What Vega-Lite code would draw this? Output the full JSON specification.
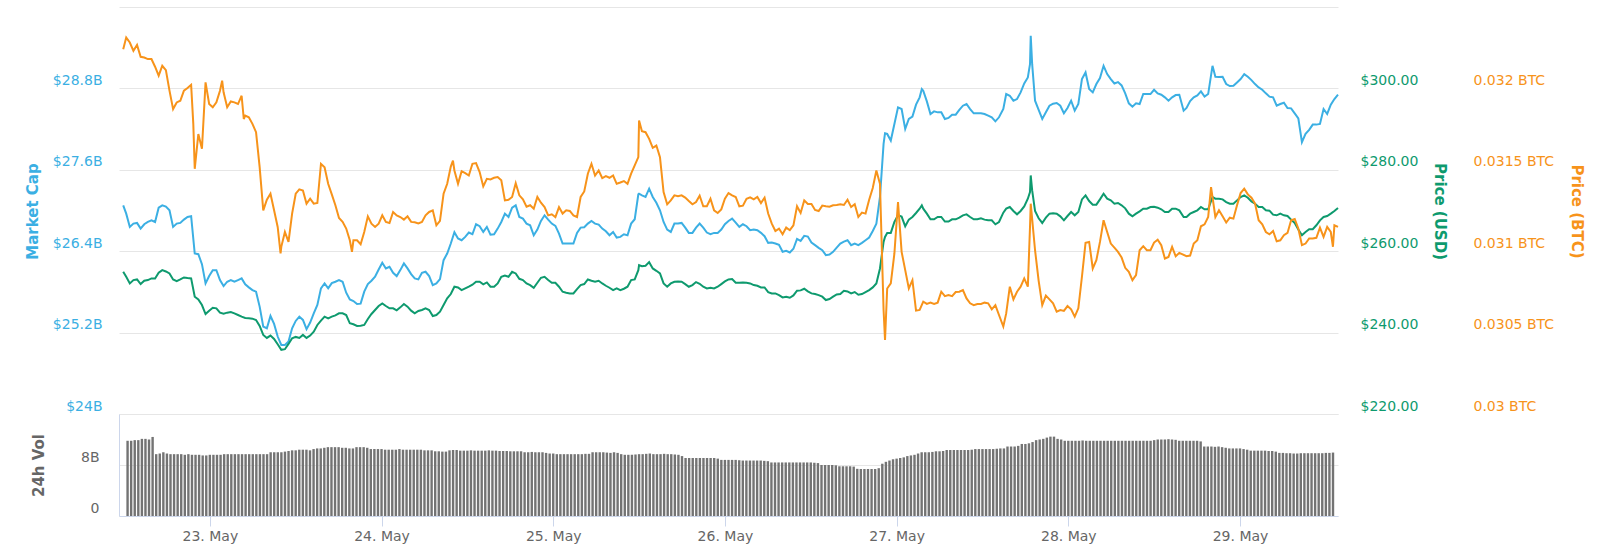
{
"$schema":"https://vega.github.io/schema/vega-lite/v6.json",
"padding":{"left":25,"top":7,"right":10,"bottom":4},
"background":"white",
"config":{"view":{"stroke":null},"font":"DejaVu Sans","axis":{"labelFontSize":14,"titleFontSize":15,"titleFontWeight":"bold","labelFlush":false}},
"datasets":{
"prices":[
{"t":"2019-05-22T12:35","m":27.076,"u":254.94,"b":0.032241},
{"t":"2019-05-22T13:00","m":26.954,"u":253.71,"b":0.032312},
{"t":"2019-05-22T13:30","m":26.758,"u":252.08,"b":0.032282},
{"t":"2019-05-22T14:00","m":26.807,"u":252.9,"b":0.032231},
{"t":"2019-05-22T14:30","m":26.817,"u":253.06,"b":0.032267},
{"t":"2019-05-22T15:00","m":26.733,"u":251.92,"b":0.032194},
{"t":"2019-05-22T15:30","m":26.797,"u":252.73,"b":0.03219},
{"t":"2019-05-22T16:00","m":26.831,"u":252.9,"b":0.03218},
{"t":"2019-05-22T16:30","m":26.856,"u":253.31,"b":0.03218},
{"t":"2019-05-22T17:00","m":26.831,"u":253.31,"b":0.032133},
{"t":"2019-05-22T17:30","m":27.042,"u":254.69,"b":0.032078},
{"t":"2019-05-22T18:00","m":27.076,"u":255.35,"b":0.032139},
{"t":"2019-05-22T18:30","m":27.057,"u":255.02,"b":0.032112},
{"t":"2019-05-22T19:00","m":27.003,"u":254.53,"b":0.031986},
{"t":"2019-05-22T19:30","m":26.758,"u":253.06,"b":0.031873},
{"t":"2019-05-22T20:00","m":26.807,"u":252.65,"b":0.031914},
{"t":"2019-05-22T20:30","m":26.817,"u":253.06,"b":0.031924},
{"t":"2019-05-22T21:00","m":26.866,"u":253.55,"b":0.031986},
{"t":"2019-05-22T21:30","m":26.905,"u":253.39,"b":0.032002},
{"t":"2019-05-22T22:00","m":26.915,"u":253.31,"b":0.032022},
{"t":"2019-05-22T22:18","b":0.031782},
{"t":"2019-05-22T22:30","m":26.366,"u":248.82,"b":0.031506},
{"t":"2019-05-22T23:00","m":26.356,"u":248.16,"b":0.03172},
{"t":"2019-05-22T23:30","m":26.209,"u":246.78,"b":0.031629},
{"t":"2019-05-23T00:00","m":25.925,"u":244.57,"b":0.032037},
{"t":"2019-05-23T00:30","m":26.033,"u":245.39,"b":0.031904},
{"t":"2019-05-23T01:00","m":26.121,"u":246.12,"b":0.031884},
{"t":"2019-05-23T01:30","m":26.121,"u":245.96,"b":0.031914},
{"t":"2019-05-23T02:00","m":25.974,"u":244.9,"b":0.031986},
{"t":"2019-05-23T02:18","b":0.032047},
{"t":"2019-05-23T02:30","m":25.886,"u":244.65,"b":0.031976},
{"t":"2019-05-23T03:00","m":25.95,"u":244.9,"b":0.031884},
{"t":"2019-05-23T03:30","m":25.974,"u":245.06,"b":0.03192},
{"t":"2019-05-23T04:00","m":25.95,"u":244.73,"b":0.031914},
{"t":"2019-05-23T04:30","m":25.974,"u":244.33,"b":0.031904},
{"t":"2019-05-23T05:00","m":25.999,"u":243.92,"b":0.031955},
{"t":"2019-05-23T05:18","b":0.031812},
{"t":"2019-05-23T05:30","m":25.911,"u":243.59,"b":0.031833},
{"t":"2019-05-23T06:00","m":25.867,"u":243.51,"b":0.031822},
{"t":"2019-05-23T06:30","m":25.827,"u":243.43,"b":0.031782},
{"t":"2019-05-23T07:00","m":25.803,"u":243.1,"b":0.031731},
{"t":"2019-05-23T07:30","m":25.583,"u":241.63,"b":0.031516},
{"t":"2019-05-23T08:00","m":25.289,"u":239.43,"b":0.031251},
{"t":"2019-05-23T08:30","m":25.264,"u":238.69,"b":0.031316},
{"t":"2019-05-23T09:00","m":25.445,"u":239.27,"b":0.031353},
{"t":"2019-05-23T09:30","m":25.328,"u":238.45,"b":0.031251},
{"t":"2019-05-23T10:00","m":25.142,"u":237.14,"b":0.031149},
{"t":"2019-05-23T10:24","b":0.030986},
{"t":"2019-05-23T10:30","m":25.019,"u":235.76,"b":0.031027},
{"t":"2019-05-23T11:00","m":25.019,"u":235.92,"b":0.031118},
{"t":"2019-05-23T11:30","m":25.068,"u":237.22,"b":0.031057},
{"t":"2019-05-23T12:00","m":25.264,"u":238.61,"b":0.031231},
{"t":"2019-05-23T12:30","m":25.372,"u":238.94,"b":0.031353},
{"t":"2019-05-23T13:00","m":25.436,"u":238.69,"b":0.03138},
{"t":"2019-05-23T13:30","m":25.387,"u":239.43,"b":0.031373},
{"t":"2019-05-23T14:00","m":25.25,"u":238.69,"b":0.031292},
{"t":"2019-05-23T14:30","m":25.348,"u":239.27,"b":0.031322},
{"t":"2019-05-23T15:00","m":25.485,"u":240.24,"b":0.031292},
{"t":"2019-05-23T15:30","m":25.607,"u":241.88,"b":0.031296},
{"t":"2019-05-23T16:00","m":25.852,"u":242.94,"b":0.031537},
{"t":"2019-05-23T16:30","m":25.925,"u":243.92,"b":0.031516},
{"t":"2019-05-23T17:00","m":25.852,"u":243.51,"b":0.031414},
{"t":"2019-05-23T17:30","m":25.93,"u":243.92,"b":0.031349},
{"t":"2019-05-23T18:00","m":25.95,"u":244.24,"b":0.031282},
{"t":"2019-05-23T18:30","m":25.974,"u":244.73,"b":0.031204},
{"t":"2019-05-23T19:00","m":25.95,"u":244.73,"b":0.03118},
{"t":"2019-05-23T19:30","m":25.788,"u":244.33,"b":0.031139},
{"t":"2019-05-23T20:00","m":25.69,"u":242.29,"b":0.031067},
{"t":"2019-05-23T20:18","b":0.030996},
{"t":"2019-05-23T20:30","m":25.666,"u":242.04,"b":0.031067},
{"t":"2019-05-23T21:00","m":25.622,"u":241.63,"b":0.031067},
{"t":"2019-05-23T21:30","m":25.627,"u":241.71,"b":0.031043},
{"t":"2019-05-23T22:00","m":25.803,"u":241.88,"b":0.031118},
{"t":"2019-05-23T22:30","m":25.916,"u":243.35,"b":0.031214},
{"t":"2019-05-23T23:00","m":25.965,"u":244.57,"b":0.031169},
{"t":"2019-05-23T23:30","m":26.023,"u":245.55,"b":0.031149},
{"t":"2019-05-24T00:00","m":26.131,"u":246.53,"b":0.031169},
{"t":"2019-05-24T00:30","m":26.229,"u":247.18,"b":0.03122},
{"t":"2019-05-24T01:00","m":26.146,"u":246.53,"b":0.03118},
{"t":"2019-05-24T01:30","m":26.17,"u":245.96,"b":0.031173},
{"t":"2019-05-24T02:00","m":26.082,"u":245.96,"b":0.031241},
{"t":"2019-05-24T02:30","m":26.033,"u":245.47,"b":0.03122},
{"t":"2019-05-24T03:00","m":26.121,"u":246.2,"b":0.03121},
{"t":"2019-05-24T03:30","m":26.219,"u":247.02,"b":0.031194},
{"t":"2019-05-24T04:00","m":26.146,"u":246.37,"b":0.031214},
{"t":"2019-05-24T04:30","m":26.062,"u":245.39,"b":0.03118},
{"t":"2019-05-24T05:00","m":25.999,"u":244.73,"b":0.031178},
{"t":"2019-05-24T05:30","m":25.984,"u":245.31,"b":0.031171},
{"t":"2019-05-24T06:00","m":26.082,"u":245.55,"b":0.03118},
{"t":"2019-05-24T06:30","m":26.097,"u":245.96,"b":0.03122},
{"t":"2019-05-24T07:00","m":26.033,"u":245.55,"b":0.031241},
{"t":"2019-05-24T07:30","m":25.901,"u":244.08,"b":0.031251},
{"t":"2019-05-24T08:00","m":25.925,"u":244.33,"b":0.031159},
{"t":"2019-05-24T08:30","m":25.989,"u":245.14,"b":0.031186},
{"t":"2019-05-24T09:00","m":26.268,"u":246.78,"b":0.031353},
{"t":"2019-05-24T09:30","m":26.366,"u":248.41,"b":0.031414},
{"t":"2019-05-24T10:00","m":26.513,"u":249.47,"b":0.03152},
{"t":"2019-05-24T10:18","b":0.031557},
{"t":"2019-05-24T10:30","m":26.68,"u":251.27,"b":0.031496},
{"t":"2019-05-24T11:00","m":26.587,"u":251.1,"b":0.031414},
{"t":"2019-05-24T11:30","m":26.562,"u":250.45,"b":0.031492},
{"t":"2019-05-24T12:00","m":26.611,"u":250.86,"b":0.03148},
{"t":"2019-05-24T12:30","m":26.675,"u":251.27,"b":0.031465},
{"t":"2019-05-24T13:00","m":26.65,"u":251.76,"b":0.031537},
{"t":"2019-05-24T13:30","m":26.797,"u":252.49,"b":0.031541},
{"t":"2019-05-24T14:00","m":26.768,"u":252.49,"b":0.031486},
{"t":"2019-05-24T14:30","m":26.684,"u":251.84,"b":0.031398},
{"t":"2019-05-24T15:00","m":26.758,"u":252.33,"b":0.031445},
{"t":"2019-05-24T15:30","m":26.645,"u":251.27,"b":0.031441},
{"t":"2019-05-24T16:00","m":26.65,"u":251.27,"b":0.031451},
{"t":"2019-05-24T16:30","m":26.733,"u":252.08,"b":0.031455},
{"t":"2019-05-24T17:00","m":26.831,"u":253.71,"b":0.031435},
{"t":"2019-05-24T17:30","m":26.954,"u":254.04,"b":0.031312},
{"t":"2019-05-24T18:00","m":26.905,"u":253.71,"b":0.031316},
{"t":"2019-05-24T18:30","m":27.042,"u":254.94,"b":0.031333},
{"t":"2019-05-24T19:00","m":27.076,"u":254.53,"b":0.031418},
{"t":"2019-05-24T19:30","m":26.905,"u":253.22,"b":0.031343},
{"t":"2019-05-24T20:00","m":26.88,"u":252.9,"b":0.031318},
{"t":"2019-05-24T20:30","m":26.807,"u":252.08,"b":0.031273},
{"t":"2019-05-24T21:00","m":26.782,"u":251.67,"b":0.031282},
{"t":"2019-05-24T21:30","m":26.635,"u":251.02,"b":0.031261},
{"t":"2019-05-24T22:00","m":26.719,"u":252.24,"b":0.031333},
{"t":"2019-05-24T22:30","m":26.846,"u":253.47,"b":0.031298},
{"t":"2019-05-24T23:00","m":26.929,"u":253.71,"b":0.031271},
{"t":"2019-05-24T23:30","m":26.866,"u":252.9,"b":0.03122},
{"t":"2019-05-25T00:00","m":26.807,"u":252.24,"b":0.031227},
{"t":"2019-05-25T00:30","m":26.773,"u":252.24,"b":0.03121},
{"t":"2019-05-25T01:00","m":26.66,"u":251.27,"b":0.031271},
{"t":"2019-05-25T01:30","m":26.513,"u":250.04,"b":0.031231},
{"t":"2019-05-25T02:00","m":26.513,"u":249.8,"b":0.031251},
{"t":"2019-05-25T02:30","m":26.513,"u":249.63,"b":0.031247},
{"t":"2019-05-25T03:00","m":26.513,"u":249.63,"b":0.03122},
{"t":"2019-05-25T03:30","m":26.67,"u":250.69,"b":0.03121},
{"t":"2019-05-25T04:00","m":26.748,"u":251.67,"b":0.031333},
{"t":"2019-05-25T04:30","m":26.753,"u":251.92,"b":0.031367},
{"t":"2019-05-25T05:00","m":26.807,"u":253.06,"b":0.031476},
{"t":"2019-05-25T05:30","m":26.846,"u":252.73,"b":0.031537},
{"t":"2019-05-25T06:00","m":26.807,"u":252.49,"b":0.031465},
{"t":"2019-05-25T06:30","m":26.792,"u":252.73,"b":0.031496},
{"t":"2019-05-25T07:00","m":26.733,"u":252.08,"b":0.031449},
{"t":"2019-05-25T07:30","m":26.694,"u":251.51,"b":0.031461},
{"t":"2019-05-25T08:00","m":26.635,"u":251.02,"b":0.031451},
{"t":"2019-05-25T08:30","m":26.684,"u":250.45,"b":0.031465},
{"t":"2019-05-25T09:00","m":26.601,"u":250.86,"b":0.031414},
{"t":"2019-05-25T09:30","m":26.611,"u":250.45,"b":0.031422},
{"t":"2019-05-25T10:00","m":26.65,"u":250.78,"b":0.031431},
{"t":"2019-05-25T10:30","m":26.635,"u":251.27,"b":0.031414},
{"t":"2019-05-25T11:00","m":26.807,"u":252.9,"b":0.031476},
{"t":"2019-05-25T11:30","m":26.871,"u":253.06,"b":0.031527},
{"t":"2019-05-25T12:00","m":27.238,"u":255.35,"b":0.031578},
{"t":"2019-05-25T12:06","m":27.248,"u":256.57,"b":0.031802},
{"t":"2019-05-25T12:30","m":27.223,"u":256.33,"b":0.031737},
{"t":"2019-05-25T13:00","m":27.199,"u":256.41,"b":0.031731},
{"t":"2019-05-25T13:30","m":27.321,"u":257.31,"b":0.03169},
{"t":"2019-05-25T14:00","m":27.199,"u":255.76,"b":0.031635},
{"t":"2019-05-25T14:30","m":27.115,"u":255.18,"b":0.031649},
{"t":"2019-05-25T15:00","m":27.003,"u":254.53,"b":0.031578},
{"t":"2019-05-25T15:30","m":26.831,"u":252.08,"b":0.031363},
{"t":"2019-05-25T16:00","m":26.719,"u":251.27,"b":0.031288},
{"t":"2019-05-25T16:30","m":26.684,"u":252.08,"b":0.031312},
{"t":"2019-05-25T17:00","m":26.807,"u":252.49,"b":0.031343},
{"t":"2019-05-25T17:30","m":26.807,"u":252.57,"b":0.031337},
{"t":"2019-05-25T18:00","m":26.817,"u":252.49,"b":0.031343},
{"t":"2019-05-25T18:30","m":26.748,"u":251.92,"b":0.031329},
{"t":"2019-05-25T19:00","m":26.67,"u":251.27,"b":0.031308},
{"t":"2019-05-25T19:30","m":26.67,"u":251.67,"b":0.031288},
{"t":"2019-05-25T20:00","m":26.748,"u":252.41,"b":0.031302},
{"t":"2019-05-25T20:30","m":26.807,"u":252.0,"b":0.031341},
{"t":"2019-05-25T21:00","m":26.748,"u":251.27,"b":0.031276},
{"t":"2019-05-25T21:30","m":26.675,"u":250.86,"b":0.031276},
{"t":"2019-05-25T22:00","m":26.65,"u":251.02,"b":0.031322},
{"t":"2019-05-25T22:30","m":26.67,"u":250.86,"b":0.031251},
{"t":"2019-05-25T23:00","m":26.67,"u":251.27,"b":0.031235},
{"t":"2019-05-25T23:30","m":26.719,"u":251.92,"b":0.031257},
{"t":"2019-05-26T00:00","m":26.797,"u":252.57,"b":0.031322},
{"t":"2019-05-26T00:30","m":26.846,"u":253.06,"b":0.031357},
{"t":"2019-05-26T01:00","m":26.88,"u":253.14,"b":0.031343},
{"t":"2019-05-26T01:30","m":26.822,"u":252.24,"b":0.031333},
{"t":"2019-05-26T02:00","m":26.758,"u":252.24,"b":0.031276},
{"t":"2019-05-26T02:30","m":26.797,"u":252.33,"b":0.03128},
{"t":"2019-05-26T03:00","m":26.768,"u":252.24,"b":0.031322},
{"t":"2019-05-26T03:30","m":26.709,"u":252.08,"b":0.031331},
{"t":"2019-05-26T04:00","m":26.719,"u":251.67,"b":0.031318},
{"t":"2019-05-26T04:30","m":26.709,"u":251.51,"b":0.031333},
{"t":"2019-05-26T05:00","m":26.67,"u":251.1,"b":0.031296},
{"t":"2019-05-26T05:30","m":26.621,"u":251.1,"b":0.031329},
{"t":"2019-05-26T06:00","m":26.523,"u":249.96,"b":0.031231},
{"t":"2019-05-26T06:30","m":26.528,"u":249.63,"b":0.031169},
{"t":"2019-05-26T07:00","m":26.513,"u":249.63,"b":0.031124},
{"t":"2019-05-26T07:30","m":26.493,"u":249.22,"b":0.031139},
{"t":"2019-05-26T08:00","m":26.391,"u":248.65,"b":0.031104},
{"t":"2019-05-26T08:30","m":26.405,"u":248.82,"b":0.031145},
{"t":"2019-05-26T09:00","m":26.381,"u":248.57,"b":0.031129},
{"t":"2019-05-26T09:30","m":26.435,"u":249.14,"b":0.031159},
{"t":"2019-05-26T10:00","m":26.582,"u":250.29,"b":0.031276},
{"t":"2019-05-26T10:30","m":26.552,"u":250.37,"b":0.031235},
{"t":"2019-05-26T11:00","m":26.626,"u":250.78,"b":0.031312},
{"t":"2019-05-26T11:30","m":26.616,"u":250.12,"b":0.03129},
{"t":"2019-05-26T12:00","m":26.528,"u":249.63,"b":0.03129},
{"t":"2019-05-26T12:30","m":26.489,"u":249.47,"b":0.031253},
{"t":"2019-05-26T13:00","m":26.449,"u":249.22,"b":0.031247},
{"t":"2019-05-26T13:30","m":26.415,"u":248.82,"b":0.03128},
{"t":"2019-05-26T14:00","m":26.342,"u":248.0,"b":0.031276},
{"t":"2019-05-26T14:30","m":26.351,"u":248.24,"b":0.031273},
{"t":"2019-05-26T15:00","m":26.391,"u":248.82,"b":0.031282},
{"t":"2019-05-26T15:30","m":26.454,"u":249.39,"b":0.031284},
{"t":"2019-05-26T16:00","m":26.513,"u":249.47,"b":0.031288},
{"t":"2019-05-26T16:30","m":26.542,"u":250.29,"b":0.031284},
{"t":"2019-05-26T17:00","m":26.562,"u":250.12,"b":0.031316},
{"t":"2019-05-26T17:30","m":26.489,"u":249.63,"b":0.031271},
{"t":"2019-05-26T18:00","m":26.513,"u":249.96,"b":0.031288},
{"t":"2019-05-26T18:30","m":26.489,"u":249.31,"b":0.03121},
{"t":"2019-05-26T19:00","m":26.523,"u":249.47,"b":0.031237},
{"t":"2019-05-26T19:30","m":26.562,"u":249.96,"b":0.031231},
{"t":"2019-05-26T20:00","m":26.601,"u":250.45,"b":0.031316},
{"t":"2019-05-26T20:30","m":26.699,"u":251.1,"b":0.031388},
{"t":"2019-05-26T21:00","m":26.807,"u":252.08,"b":0.031496},
{"t":"2019-05-26T21:30","m":27.199,"u":255.76,"b":0.031414},
{"t":"2019-05-26T22:00","m":27.982,"u":262.29,"b":0.030639},
{"t":"2019-05-26T22:12","m":28.139,"u":263.51,"b":0.030455},
{"t":"2019-05-26T22:30","m":28.129,"u":264.49,"b":0.030771},
{"t":"2019-05-26T23:00","m":28.031,"u":264.49,"b":0.030802},
{"t":"2019-05-26T23:30","m":28.276,"u":267.18,"b":0.030986},
{"t":"2019-05-27T00:00","m":28.521,"u":268.82,"b":0.031302},
{"t":"2019-05-27T00:30","m":28.496,"u":268.5,"b":0.030996},
{"t":"2019-05-27T01:00","m":28.203,"u":266.12,"b":0.030884},
{"t":"2019-05-27T01:30","m":28.349,"u":267.76,"b":0.030771},
{"t":"2019-05-27T02:00","m":28.384,"u":268.41,"b":0.030822},
{"t":"2019-05-27T02:30","m":28.56,"u":269.39,"b":0.030635},
{"t":"2019-05-27T03:00","m":28.668,"u":270.45,"b":0.030639},
{"t":"2019-05-27T03:18","m":28.79,"u":271.27},
{"t":"2019-05-27T03:30","m":28.766,"u":270.45,"b":0.03069},
{"t":"2019-05-27T04:00","m":28.609,"u":269.22,"b":0.030676},
{"t":"2019-05-27T04:30","m":28.423,"u":267.84,"b":0.030684},
{"t":"2019-05-27T05:00","m":28.462,"u":267.84,"b":0.030676},
{"t":"2019-05-27T05:30","m":28.447,"u":268.41,"b":0.030684},
{"t":"2019-05-27T06:00","m":28.447,"u":268.41,"b":0.030751},
{"t":"2019-05-27T06:30","m":28.349,"u":267.27,"b":0.030724},
{"t":"2019-05-27T07:00","m":28.364,"u":267.27,"b":0.030731},
{"t":"2019-05-27T07:30","m":28.413,"u":267.84,"b":0.030724},
{"t":"2019-05-27T08:00","m":28.413,"u":267.84,"b":0.030749},
{"t":"2019-05-27T08:30","m":28.482,"u":268.24,"b":0.030751},
{"t":"2019-05-27T09:00","m":28.545,"u":268.82,"b":0.030761},
{"t":"2019-05-27T09:30","m":28.57,"u":269.06,"b":0.03071},
{"t":"2019-05-27T10:00","m":28.496,"u":268.41,"b":0.03068},
{"t":"2019-05-27T10:30","m":28.433,"u":267.84,"b":0.030669},
{"t":"2019-05-27T11:00","m":28.433,"u":267.84,"b":0.030676},
{"t":"2019-05-27T11:30","m":28.433,"u":268.08,"b":0.030676},
{"t":"2019-05-27T12:00","m":28.423,"u":267.76,"b":0.030684},
{"t":"2019-05-27T12:30","m":28.398,"u":267.59,"b":0.03068},
{"t":"2019-05-27T13:00","m":28.374,"u":267.59,"b":0.030643},
{"t":"2019-05-27T13:30","m":28.315,"u":266.61,"b":0.030669},
{"t":"2019-05-27T14:00","m":28.374,"u":267.18,"b":0.030608},
{"t":"2019-05-27T14:36","m":28.496,"u":269.47,"b":0.030537},
{"t":"2019-05-27T15:00","m":28.717,"u":270.45,"b":0.030618},
{"t":"2019-05-27T15:30","m":28.692,"u":270.86,"b":0.030782},
{"t":"2019-05-27T16:00","m":28.619,"u":269.88,"b":0.030704},
{"t":"2019-05-27T16:30","m":28.643,"u":269.06,"b":0.030751},
{"t":"2019-05-27T17:00","m":28.741,"u":269.88,"b":0.030782},
{"t":"2019-05-27T17:30","m":28.873,"u":271.02,"b":0.030833},
{"t":"2019-05-27T18:00","m":28.962,"u":272.9,"b":0.030782},
{"t":"2019-05-27T18:18","m":29.157,"u":274.53,"b":0.031149},
{"t":"2019-05-27T18:24","m":29.574,"u":278.61,"b":0.031292},
{"t":"2019-05-27T18:36","m":29.157,"u":274.94},
{"t":"2019-05-27T19:00","m":28.619,"u":269.88,"b":0.031006},
{"t":"2019-05-27T19:30","m":28.482,"u":268.08,"b":0.030818},
{"t":"2019-05-27T20:00","m":28.349,"u":266.94,"b":0.030669},
{"t":"2019-05-27T20:30","m":28.447,"u":268.24,"b":0.030727},
{"t":"2019-05-27T21:00","m":28.545,"u":269.22,"b":0.030704},
{"t":"2019-05-27T21:30","m":28.575,"u":269.31,"b":0.03068},
{"t":"2019-05-27T22:00","m":28.585,"u":269.22,"b":0.030629},
{"t":"2019-05-27T22:30","m":28.545,"u":268.57,"b":0.030639},
{"t":"2019-05-27T23:00","m":28.433,"u":267.59,"b":0.030633},
{"t":"2019-05-27T23:30","m":28.511,"u":268.65,"b":0.030663},
{"t":"2019-05-28T00:00","m":28.619,"u":269.63,"b":0.030643},
{"t":"2019-05-28T00:30","m":28.472,"u":268.82,"b":0.030598},
{"t":"2019-05-28T01:00","m":28.57,"u":269.63,"b":0.030649},
{"t":"2019-05-28T01:30","m":28.937,"u":272.73,"b":0.030843},
{"t":"2019-05-28T02:00","m":29.035,"u":273.71,"b":0.031051},
{"t":"2019-05-28T02:30","m":28.79,"u":272.33,"b":0.031057},
{"t":"2019-05-28T03:00","m":28.741,"u":271.43,"b":0.030894},
{"t":"2019-05-28T03:30","m":28.864,"u":271.43,"b":0.030945},
{"t":"2019-05-28T04:00","m":28.952,"u":272.73,"b":0.031057},
{"t":"2019-05-28T04:30","m":29.133,"u":274.12,"b":0.03119},
{"t":"2019-05-28T05:00","m":29.011,"u":272.9,"b":0.031118},
{"t":"2019-05-28T05:30","m":28.937,"u":272.49,"b":0.031047},
{"t":"2019-05-28T06:00","m":28.873,"u":271.67,"b":0.031022},
{"t":"2019-05-28T06:30","m":28.893,"u":271.84,"b":0.030996},
{"t":"2019-05-28T07:00","m":28.844,"u":271.27,"b":0.030961},
{"t":"2019-05-28T07:30","m":28.727,"u":270.53,"b":0.030898},
{"t":"2019-05-28T08:00","m":28.58,"u":269.22,"b":0.030873},
{"t":"2019-05-28T08:30","m":28.531,"u":268.57,"b":0.030822},
{"t":"2019-05-28T09:00","m":28.58,"u":269.22,"b":0.030853},
{"t":"2019-05-28T09:30","m":28.57,"u":269.8,"b":0.031006},
{"t":"2019-05-28T10:00","m":28.717,"u":270.45,"b":0.031031},
{"t":"2019-05-28T10:30","m":28.717,"u":270.45,"b":0.031006},
{"t":"2019-05-28T11:00","m":28.717,"u":270.86,"b":0.031006},
{"t":"2019-05-28T11:30","m":28.78,"u":270.94,"b":0.031053},
{"t":"2019-05-28T12:00","m":28.727,"u":270.69,"b":0.031071},
{"t":"2019-05-28T12:30","m":28.707,"u":270.29,"b":0.031037},
{"t":"2019-05-28T13:00","m":28.668,"u":269.63,"b":0.030955},
{"t":"2019-05-28T13:30","m":28.619,"u":269.63,"b":0.030965},
{"t":"2019-05-28T14:00","m":28.668,"u":270.45,"b":0.031027},
{"t":"2019-05-28T14:30","m":28.702,"u":270.45,"b":0.030969},
{"t":"2019-05-28T15:00","m":28.707,"u":270.04,"b":0.03099},
{"t":"2019-05-28T15:36","m":28.472,"u":268.41},
{"t":"2019-05-28T16:00","m":28.511,"u":268.41,"b":0.030969},
{"t":"2019-05-28T16:30","m":28.614,"u":269.22,"b":0.030973},
{"t":"2019-05-28T17:00","m":28.668,"u":269.63,"b":0.031047},
{"t":"2019-05-28T17:30","m":28.697,"u":270.04,"b":0.031067},
{"t":"2019-05-28T18:00","m":28.756,"u":270.86,"b":0.031153},
{"t":"2019-05-28T18:30","m":28.678,"u":270.29,"b":0.031165},
{"t":"2019-05-28T19:00","m":28.717,"u":270.29,"b":0.03121},
{"t":"2019-05-28T19:24","b":0.031394},
{"t":"2019-05-28T19:36","m":29.133,"u":273.31},
{"t":"2019-05-28T20:00","m":28.971,"u":272.9,"b":0.03121},
{"t":"2019-05-28T20:30","m":28.967,"u":272.9,"b":0.031251},
{"t":"2019-05-28T21:00","m":28.971,"u":272.73,"b":0.031214},
{"t":"2019-05-28T21:30","m":28.864,"u":272.08,"b":0.031176},
{"t":"2019-05-28T22:00","m":28.834,"u":271.67,"b":0.031206},
{"t":"2019-05-28T22:30","m":28.839,"u":271.67,"b":0.0312},
{"t":"2019-05-28T23:00","m":28.888,"u":272.49,"b":0.031282},
{"t":"2019-05-28T23:30","m":28.937,"u":273.31,"b":0.031357},
{"t":"2019-05-29T00:00","m":29.011,"u":273.71,"b":0.031384},
{"t":"2019-05-29T00:30","m":28.971,"u":273.14,"b":0.031349},
{"t":"2019-05-29T01:00","m":28.922,"u":272.24,"b":0.031329},
{"t":"2019-05-29T01:30","m":28.864,"u":271.67,"b":0.031292},
{"t":"2019-05-29T02:00","m":28.815,"u":270.86,"b":0.03119},
{"t":"2019-05-29T02:30","m":28.78,"u":270.86,"b":0.031165},
{"t":"2019-05-29T03:00","m":28.727,"u":270.04,"b":0.031118},
{"t":"2019-05-29T03:30","m":28.678,"u":269.96,"b":0.031104},
{"t":"2019-05-29T04:00","m":28.668,"u":268.98,"b":0.031124},
{"t":"2019-05-29T04:30","m":28.545,"u":268.82,"b":0.031061},
{"t":"2019-05-29T05:00","m":28.57,"u":269.22,"b":0.031067},
{"t":"2019-05-29T05:30","m":28.589,"u":268.82,"b":0.031098},
{"t":"2019-05-29T06:00","m":28.511,"u":268.65,"b":0.031112},
{"t":"2019-05-29T06:30","m":28.506,"u":267.76,"b":0.03119},
{"t":"2019-05-29T07:00","m":28.433,"u":266.94,"b":0.031198},
{"t":"2019-05-29T07:30","m":28.359,"u":265.31,"b":0.031139},
{"t":"2019-05-29T08:00","m":28.007,"u":263.92,"b":0.031037},
{"t":"2019-05-29T08:30","m":28.129,"u":264.73,"b":0.031047},
{"t":"2019-05-29T09:00","m":28.188,"u":265.39,"b":0.031078},
{"t":"2019-05-29T09:30","m":28.266,"u":265.39,"b":0.031078},
{"t":"2019-05-29T10:00","m":28.266,"u":266.37,"b":0.031082},
{"t":"2019-05-29T10:30","m":28.276,"u":267.59,"b":0.031145},
{"t":"2019-05-29T11:00","m":28.496,"u":268.41,"b":0.031088},
{"t":"2019-05-29T11:30","m":28.423,"u":268.65,"b":0.031149},
{"t":"2019-05-29T12:00","m":28.56,"u":269.22,"b":0.031118},
{"t":"2019-05-29T12:18","b":0.031027},
{"t":"2019-05-29T12:30","m":28.643,"u":269.88,"b":0.031159},
{"t":"2019-05-29T13:00","m":28.707,"u":270.61,"b":0.031149}
],
"volume":[
{"t":"2019-05-22T12:30","v":11.8},{"t":"2019-05-22T13:00","v":11.8},{"t":"2019-05-22T13:30","v":11.9},{"t":"2019-05-22T14:00","v":11.9},
{"t":"2019-05-22T14:30","v":12.1},{"t":"2019-05-22T15:00","v":12.1},{"t":"2019-05-22T15:30","v":12.0},{"t":"2019-05-22T16:00","v":12.4},
{"t":"2019-05-22T16:30","v":9.7},{"t":"2019-05-22T17:00","v":9.8},{"t":"2019-05-22T17:30","v":10.0},{"t":"2019-05-22T18:00","v":9.8},
{"t":"2019-05-22T18:30","v":9.7},{"t":"2019-05-22T19:00","v":9.7},{"t":"2019-05-22T19:30","v":9.7},{"t":"2019-05-22T20:00","v":9.7},
{"t":"2019-05-22T20:30","v":9.6},{"t":"2019-05-22T21:00","v":9.7},{"t":"2019-05-22T21:30","v":9.6},{"t":"2019-05-22T22:00","v":9.6},
{"t":"2019-05-22T22:30","v":9.6},{"t":"2019-05-22T23:00","v":9.5},{"t":"2019-05-22T23:30","v":9.5},
{"t":"2019-05-23T00:00","v":9.6},{"t":"2019-05-23T00:30","v":9.6},{"t":"2019-05-23T01:00","v":9.6},{"t":"2019-05-23T01:30","v":9.6},
{"t":"2019-05-23T02:00","v":9.7},{"t":"2019-05-23T02:30","v":9.7},{"t":"2019-05-23T03:00","v":9.7},{"t":"2019-05-23T03:30","v":9.7},
{"t":"2019-05-23T04:00","v":9.7},{"t":"2019-05-23T04:30","v":9.7},{"t":"2019-05-23T05:00","v":9.7},{"t":"2019-05-23T05:30","v":9.7},
{"t":"2019-05-23T06:00","v":9.7},{"t":"2019-05-23T06:30","v":9.7},{"t":"2019-05-23T07:00","v":9.7},{"t":"2019-05-23T07:30","v":9.7},
{"t":"2019-05-23T08:00","v":9.7},{"t":"2019-05-23T08:30","v":10.0},{"t":"2019-05-23T09:00","v":10.0},{"t":"2019-05-23T09:30","v":10.0},
{"t":"2019-05-23T10:00","v":10.0},{"t":"2019-05-23T10:30","v":10.1},{"t":"2019-05-23T11:00","v":10.2},{"t":"2019-05-23T11:30","v":10.3},
{"t":"2019-05-23T12:00","v":10.3},{"t":"2019-05-23T12:30","v":10.4},{"t":"2019-05-23T13:00","v":10.4},{"t":"2019-05-23T13:30","v":10.4},
{"t":"2019-05-23T14:00","v":10.3},{"t":"2019-05-23T14:30","v":10.5},{"t":"2019-05-23T15:00","v":10.6},{"t":"2019-05-23T15:30","v":10.6},
{"t":"2019-05-23T16:00","v":10.7},{"t":"2019-05-23T16:30","v":10.8},{"t":"2019-05-23T17:00","v":10.8},{"t":"2019-05-23T17:30","v":10.8},
{"t":"2019-05-23T18:00","v":10.8},{"t":"2019-05-23T18:30","v":10.7},{"t":"2019-05-23T19:00","v":10.7},{"t":"2019-05-23T19:30","v":10.6},
{"t":"2019-05-23T20:00","v":10.6},{"t":"2019-05-23T20:30","v":10.8},{"t":"2019-05-23T21:00","v":10.8},{"t":"2019-05-23T21:30","v":10.8},
{"t":"2019-05-23T22:00","v":10.7},{"t":"2019-05-23T22:30","v":10.5},{"t":"2019-05-23T23:00","v":10.5},{"t":"2019-05-23T23:30","v":10.5},
{"t":"2019-05-24T00:00","v":10.5},{"t":"2019-05-24T00:30","v":10.4},{"t":"2019-05-24T01:00","v":10.4},{"t":"2019-05-24T01:30","v":10.4},
{"t":"2019-05-24T02:00","v":10.4},{"t":"2019-05-24T02:30","v":10.5},{"t":"2019-05-24T03:00","v":10.4},{"t":"2019-05-24T03:30","v":10.4},
{"t":"2019-05-24T04:00","v":10.4},{"t":"2019-05-24T04:30","v":10.4},{"t":"2019-05-24T05:00","v":10.4},{"t":"2019-05-24T05:30","v":10.4},
{"t":"2019-05-24T06:00","v":10.3},{"t":"2019-05-24T06:30","v":10.3},{"t":"2019-05-24T07:00","v":10.3},{"t":"2019-05-24T07:30","v":10.15},
{"t":"2019-05-24T08:00","v":10.15},{"t":"2019-05-24T08:30","v":10.1},{"t":"2019-05-24T09:00","v":10.1},{"t":"2019-05-24T09:30","v":10.3},
{"t":"2019-05-24T10:00","v":10.35},{"t":"2019-05-24T10:30","v":10.35},{"t":"2019-05-24T11:00","v":10.25},{"t":"2019-05-24T11:30","v":10.25},
{"t":"2019-05-24T12:00","v":10.25},{"t":"2019-05-24T12:30","v":10.3},{"t":"2019-05-24T13:00","v":10.25},{"t":"2019-05-24T13:30","v":10.25},
{"t":"2019-05-24T14:00","v":10.25},{"t":"2019-05-24T14:30","v":10.25},{"t":"2019-05-24T15:00","v":10.3},{"t":"2019-05-24T15:30","v":10.25},
{"t":"2019-05-24T16:00","v":10.25},{"t":"2019-05-24T16:30","v":10.2},{"t":"2019-05-24T17:00","v":10.2},{"t":"2019-05-24T17:30","v":10.2},
{"t":"2019-05-24T18:00","v":10.15},{"t":"2019-05-24T18:30","v":10.15},{"t":"2019-05-24T19:00","v":10.15},{"t":"2019-05-24T19:30","v":10.15},
{"t":"2019-05-24T20:00","v":10.0},{"t":"2019-05-24T20:30","v":10.0},{"t":"2019-05-24T21:00","v":10.05},{"t":"2019-05-24T21:30","v":10.0},
{"t":"2019-05-24T22:00","v":10.0},{"t":"2019-05-24T22:30","v":10.0},{"t":"2019-05-24T23:00","v":9.9},{"t":"2019-05-24T23:30","v":9.8},
{"t":"2019-05-25T00:00","v":9.8},{"t":"2019-05-25T00:30","v":9.7},{"t":"2019-05-25T01:00","v":9.7},{"t":"2019-05-25T01:30","v":9.7},
{"t":"2019-05-25T02:00","v":9.7},{"t":"2019-05-25T02:30","v":9.7},{"t":"2019-05-25T03:00","v":9.7},{"t":"2019-05-25T03:30","v":9.7},
{"t":"2019-05-25T04:00","v":9.7},{"t":"2019-05-25T04:30","v":9.75},{"t":"2019-05-25T05:00","v":9.75},{"t":"2019-05-25T05:30","v":10.0},
{"t":"2019-05-25T06:00","v":10.0},{"t":"2019-05-25T06:30","v":10.0},{"t":"2019-05-25T07:00","v":10.0},{"t":"2019-05-25T07:30","v":9.95},
{"t":"2019-05-25T08:00","v":9.9},{"t":"2019-05-25T08:30","v":10.0},{"t":"2019-05-25T09:00","v":9.9},{"t":"2019-05-25T09:30","v":9.7},
{"t":"2019-05-25T10:00","v":9.6},{"t":"2019-05-25T10:30","v":9.6},{"t":"2019-05-25T11:00","v":9.6},{"t":"2019-05-25T11:30","v":9.65},
{"t":"2019-05-25T12:00","v":9.7},{"t":"2019-05-25T12:30","v":9.7},{"t":"2019-05-25T13:00","v":9.75},{"t":"2019-05-25T13:30","v":9.8},
{"t":"2019-05-25T14:00","v":9.7},{"t":"2019-05-25T14:30","v":9.7},{"t":"2019-05-25T15:00","v":9.7},{"t":"2019-05-25T15:30","v":9.75},
{"t":"2019-05-25T16:00","v":9.7},{"t":"2019-05-25T16:30","v":9.7},{"t":"2019-05-25T17:00","v":9.65},{"t":"2019-05-25T17:30","v":9.6},
{"t":"2019-05-25T18:00","v":9.4},{"t":"2019-05-25T18:30","v":9.1},{"t":"2019-05-25T19:00","v":9.1},{"t":"2019-05-25T19:30","v":9.1},
{"t":"2019-05-25T20:00","v":9.1},{"t":"2019-05-25T20:30","v":9.1},{"t":"2019-05-25T21:00","v":9.1},{"t":"2019-05-25T21:30","v":9.1},
{"t":"2019-05-25T22:00","v":9.1},{"t":"2019-05-25T22:30","v":9.1},{"t":"2019-05-25T23:00","v":9.0},{"t":"2019-05-25T23:30","v":8.8},
{"t":"2019-05-26T00:00","v":8.8},{"t":"2019-05-26T00:30","v":8.8},{"t":"2019-05-26T01:00","v":8.8},{"t":"2019-05-26T01:30","v":8.8},
{"t":"2019-05-26T02:00","v":8.75},{"t":"2019-05-26T02:30","v":8.7},{"t":"2019-05-26T03:00","v":8.7},{"t":"2019-05-26T03:30","v":8.7},
{"t":"2019-05-26T04:00","v":8.7},{"t":"2019-05-26T04:30","v":8.7},{"t":"2019-05-26T05:00","v":8.7},{"t":"2019-05-26T05:30","v":8.65},
{"t":"2019-05-26T06:00","v":8.6},{"t":"2019-05-26T06:30","v":8.4},{"t":"2019-05-26T07:00","v":8.4},{"t":"2019-05-26T07:30","v":8.4},
{"t":"2019-05-26T08:00","v":8.4},{"t":"2019-05-26T08:30","v":8.4},{"t":"2019-05-26T09:00","v":8.4},{"t":"2019-05-26T09:30","v":8.4},
{"t":"2019-05-26T10:00","v":8.4},{"t":"2019-05-26T10:30","v":8.4},{"t":"2019-05-26T11:00","v":8.4},{"t":"2019-05-26T11:30","v":8.4},
{"t":"2019-05-26T12:00","v":8.4},{"t":"2019-05-26T12:30","v":8.35},{"t":"2019-05-26T13:00","v":8.3},{"t":"2019-05-26T13:30","v":8.0},
{"t":"2019-05-26T14:00","v":8.0},{"t":"2019-05-26T14:30","v":8.0},{"t":"2019-05-26T15:00","v":8.0},{"t":"2019-05-26T15:30","v":7.95},
{"t":"2019-05-26T16:00","v":7.8},{"t":"2019-05-26T16:30","v":7.8},{"t":"2019-05-26T17:00","v":7.8},{"t":"2019-05-26T17:30","v":7.8},
{"t":"2019-05-26T18:00","v":7.75},{"t":"2019-05-26T18:30","v":7.4},{"t":"2019-05-26T19:00","v":7.37},{"t":"2019-05-26T19:30","v":7.37},
{"t":"2019-05-26T20:00","v":7.37},{"t":"2019-05-26T20:30","v":7.37},{"t":"2019-05-26T21:00","v":7.37},{"t":"2019-05-26T21:30","v":7.5},
{"t":"2019-05-26T22:00","v":8.2},{"t":"2019-05-26T22:30","v":8.5},{"t":"2019-05-26T23:00","v":8.7},{"t":"2019-05-26T23:30","v":8.9},
{"t":"2019-05-27T00:00","v":9.0},{"t":"2019-05-27T00:30","v":9.1},{"t":"2019-05-27T01:00","v":9.2},{"t":"2019-05-27T01:30","v":9.4},
{"t":"2019-05-27T02:00","v":9.5},{"t":"2019-05-27T02:30","v":9.6},{"t":"2019-05-27T03:00","v":9.8},{"t":"2019-05-27T03:30","v":10.0},
{"t":"2019-05-27T04:00","v":10.0},{"t":"2019-05-27T04:30","v":10.0},{"t":"2019-05-27T05:00","v":10.05},{"t":"2019-05-27T05:30","v":10.15},
{"t":"2019-05-27T06:00","v":10.15},{"t":"2019-05-27T06:30","v":10.2},{"t":"2019-05-27T07:00","v":10.35},{"t":"2019-05-27T07:30","v":10.35},
{"t":"2019-05-27T08:00","v":10.35},{"t":"2019-05-27T08:30","v":10.35},{"t":"2019-05-27T09:00","v":10.35},{"t":"2019-05-27T09:30","v":10.35},
{"t":"2019-05-27T10:00","v":10.35},{"t":"2019-05-27T10:30","v":10.4},{"t":"2019-05-27T11:00","v":10.5},{"t":"2019-05-27T11:30","v":10.5},
{"t":"2019-05-27T12:00","v":10.5},{"t":"2019-05-27T12:30","v":10.5},{"t":"2019-05-27T13:00","v":10.5},{"t":"2019-05-27T13:30","v":10.5},
{"t":"2019-05-27T14:00","v":10.55},{"t":"2019-05-27T14:30","v":10.6},{"t":"2019-05-27T15:00","v":10.6},{"t":"2019-05-27T15:30","v":10.9},
{"t":"2019-05-27T16:00","v":10.9},{"t":"2019-05-27T16:30","v":10.9},{"t":"2019-05-27T17:00","v":11.0},{"t":"2019-05-27T17:30","v":11.3},
{"t":"2019-05-27T18:00","v":11.3},{"t":"2019-05-27T18:30","v":11.4},{"t":"2019-05-27T19:00","v":11.6},{"t":"2019-05-27T19:30","v":11.9},
{"t":"2019-05-27T20:00","v":12.0},{"t":"2019-05-27T20:30","v":12.1},{"t":"2019-05-27T21:00","v":12.3},{"t":"2019-05-27T21:30","v":12.45},
{"t":"2019-05-27T22:00","v":12.45},{"t":"2019-05-27T22:30","v":12.1},{"t":"2019-05-27T23:00","v":12.0},{"t":"2019-05-27T23:30","v":11.8},
{"t":"2019-05-28T00:00","v":11.8},{"t":"2019-05-28T00:30","v":11.8},{"t":"2019-05-28T01:00","v":11.8},{"t":"2019-05-28T01:30","v":11.8},
{"t":"2019-05-28T02:00","v":11.85},{"t":"2019-05-28T02:30","v":11.8},{"t":"2019-05-28T03:00","v":11.8},{"t":"2019-05-28T03:30","v":11.8},
{"t":"2019-05-28T04:00","v":11.8},{"t":"2019-05-28T04:30","v":11.8},{"t":"2019-05-28T05:00","v":11.8},{"t":"2019-05-28T05:30","v":11.8},
{"t":"2019-05-28T06:00","v":11.8},{"t":"2019-05-28T06:30","v":11.8},{"t":"2019-05-28T07:00","v":11.8},{"t":"2019-05-28T07:30","v":11.8},
{"t":"2019-05-28T08:00","v":11.8},{"t":"2019-05-28T08:30","v":11.8},{"t":"2019-05-28T09:00","v":11.8},{"t":"2019-05-28T09:30","v":11.8},
{"t":"2019-05-28T10:00","v":11.8},{"t":"2019-05-28T10:30","v":11.8},{"t":"2019-05-28T11:00","v":11.8},{"t":"2019-05-28T11:30","v":11.8},
{"t":"2019-05-28T12:00","v":11.9},{"t":"2019-05-28T12:30","v":12.0},{"t":"2019-05-28T13:00","v":12.0},{"t":"2019-05-28T13:30","v":12.0},
{"t":"2019-05-28T14:00","v":12.05},{"t":"2019-05-28T14:30","v":12.0},{"t":"2019-05-28T15:00","v":11.95},{"t":"2019-05-28T15:30","v":11.8},
{"t":"2019-05-28T16:00","v":11.8},{"t":"2019-05-28T16:30","v":11.8},{"t":"2019-05-28T17:00","v":11.8},{"t":"2019-05-28T17:30","v":11.8},
{"t":"2019-05-28T18:00","v":11.8},{"t":"2019-05-28T18:30","v":11.7},{"t":"2019-05-28T19:00","v":10.9},{"t":"2019-05-28T19:30","v":10.9},
{"t":"2019-05-28T20:00","v":10.9},{"t":"2019-05-28T20:30","v":10.85},{"t":"2019-05-28T21:00","v":10.9},{"t":"2019-05-28T21:30","v":10.8},
{"t":"2019-05-28T22:00","v":10.7},{"t":"2019-05-28T22:30","v":10.6},{"t":"2019-05-28T23:00","v":10.6},{"t":"2019-05-28T23:30","v":10.6},
{"t":"2019-05-29T00:00","v":10.6},{"t":"2019-05-29T00:30","v":10.5},{"t":"2019-05-29T01:00","v":10.4},{"t":"2019-05-29T01:30","v":10.25},
{"t":"2019-05-29T02:00","v":10.25},{"t":"2019-05-29T02:30","v":10.25},{"t":"2019-05-29T03:00","v":10.25},{"t":"2019-05-29T03:30","v":10.25},
{"t":"2019-05-29T04:00","v":10.2},{"t":"2019-05-29T04:30","v":10.2},{"t":"2019-05-29T05:00","v":10.1},{"t":"2019-05-29T05:30","v":9.9},
{"t":"2019-05-29T06:00","v":9.9},{"t":"2019-05-29T06:30","v":9.85},{"t":"2019-05-29T07:00","v":9.85},{"t":"2019-05-29T07:30","v":9.8},
{"t":"2019-05-29T08:00","v":9.8},{"t":"2019-05-29T08:30","v":9.85},{"t":"2019-05-29T09:00","v":9.85},{"t":"2019-05-29T09:30","v":9.85},
{"t":"2019-05-29T10:00","v":9.85},{"t":"2019-05-29T10:30","v":9.85},{"t":"2019-05-29T11:00","v":9.85},{"t":"2019-05-29T11:30","v":9.85},
{"t":"2019-05-29T12:00","v":9.9},{"t":"2019-05-29T12:30","v":9.9},{"t":"2019-05-29T13:00","v":9.95}
]
},
"spacing":0,
"bounds":"flush",
"vconcat":[
{
"width":1219,"height":407,
"data":{"name":"prices"},
"encoding":{"x":{"field":"t","type":"temporal","scale":{"domain":[{"year":2019,"month":5,"date":22,"hours":12},{"year":2019,"month":5,"date":29,"hours":13}]},"axis":{"orient":"top","labels":false,"ticks":false,"grid":false,"domain":true,"domainColor":"#e6e6e6","title":null}}},
"layer":[
{"transform":[{"filter":"isValid(datum.m)"}],
"mark":{"type":"line","color":"#3BAFE3","strokeWidth":2,"invalid":"filter"},
"encoding":{"y":{"field":"m","type":"quantitative","scale":{"domain":[24,30],"nice":false,"zero":false},
"axis":{"orient":"left","values":[24,25.2,26.4,27.6,28.8],"labelExpr":"'$' + format(datum.value,'.1~f') + 'B'","title":"Market Cap","titleColor":"#3BAFE3","labelColor":"#3BAFE3","grid":true,"gridColor":"#e6e6e6","domain":false,"ticks":false,"tickSize":0,"labelPadding":17,"labelOffset":-8,"titleX":-79,"titleY":204,"titleAngle":-90,"titleAlign":"center","titleBaseline":"bottom"}}}},
{"transform":[{"filter":"isValid(datum.u)"}],
"mark":{"type":"line","color":"#0E9A6E","strokeWidth":2,"invalid":"filter"},
"encoding":{"y":{"field":"u","type":"quantitative","scale":{"domain":[220,320],"nice":false,"zero":false},
"axis":{"orient":"right","values":[220,240,260,280,300],"labelExpr":"'$' + format(datum.value,'.2f')","title":"Price (USD)","titleColor":"#0E9A6E","labelColor":"#0E9A6E","grid":false,"domain":false,"ticks":false,"tickSize":0,"labelPadding":22,"labelOffset":-8,"titleX":93,"titleY":204,"titleAngle":90,"titleAlign":"center","titleBaseline":"bottom"}}}},
{"transform":[{"filter":"isValid(datum.b)"}],
"mark":{"type":"line","color":"#F7931A","strokeWidth":2,"invalid":"filter"},
"encoding":{"y":{"field":"b","type":"quantitative","scale":{"domain":[0.03,0.0325],"nice":false,"zero":false},
"axis":{"orient":"right","offset":113,"values":[0.03,0.0305,0.031,0.0315,0.032],"labelExpr":"datum.value + ' BTC'","title":"Price (BTC)","titleColor":"#F7931A","labelColor":"#F7931A","grid":false,"domain":false,"ticks":false,"tickSize":0,"labelPadding":22,"labelOffset":-8,"titleX":117,"titleY":204,"titleAngle":90,"titleAlign":"center","titleBaseline":"bottom"}}}}
],
"resolve":{"scale":{"y":"independent"},"axis":{"y":"independent"}}
},
{
"width":1219,"height":102,
"data":{"name":"volume"},
"mark":{"type":"bar","width":2.4,"color":"#737373"},
"encoding":{
"x":{"field":"t","type":"temporal","scale":{"domain":[{"year":2019,"month":5,"date":22,"hours":12},{"year":2019,"month":5,"date":29,"hours":13}]},"axis":{"orient":"bottom","format":"%d. %b","tickCount":{"interval":"day","step":1},"labelColor":"#666666","domainColor":"#ccd6eb","tickColor":"#ccd6eb","tickSize":10,"labelPadding":3,"grid":false,"title":null}},
"y":{"field":"v","type":"quantitative","scale":{"domain":[0,16],"nice":false,"zero":true},
"axis":{"values":[0,8,16],"labelExpr":"datum.value == 0 ? '0' : (datum.value == 16 ? '' : datum.value + 'B')","title":"24h Vol","titleColor":"#666666","labelColor":"#666666","grid":true,"gridColor":"#e6e6e6","domain":true,"domainColor":"#ccd6eb","ticks":false,"tickSize":0,"labelPadding":20,"labelOffset":-8,"titleX":-73,"titleY":51,"titleAngle":-90,"titleAlign":"center","titleBaseline":"bottom"}}
}
}
]
}
